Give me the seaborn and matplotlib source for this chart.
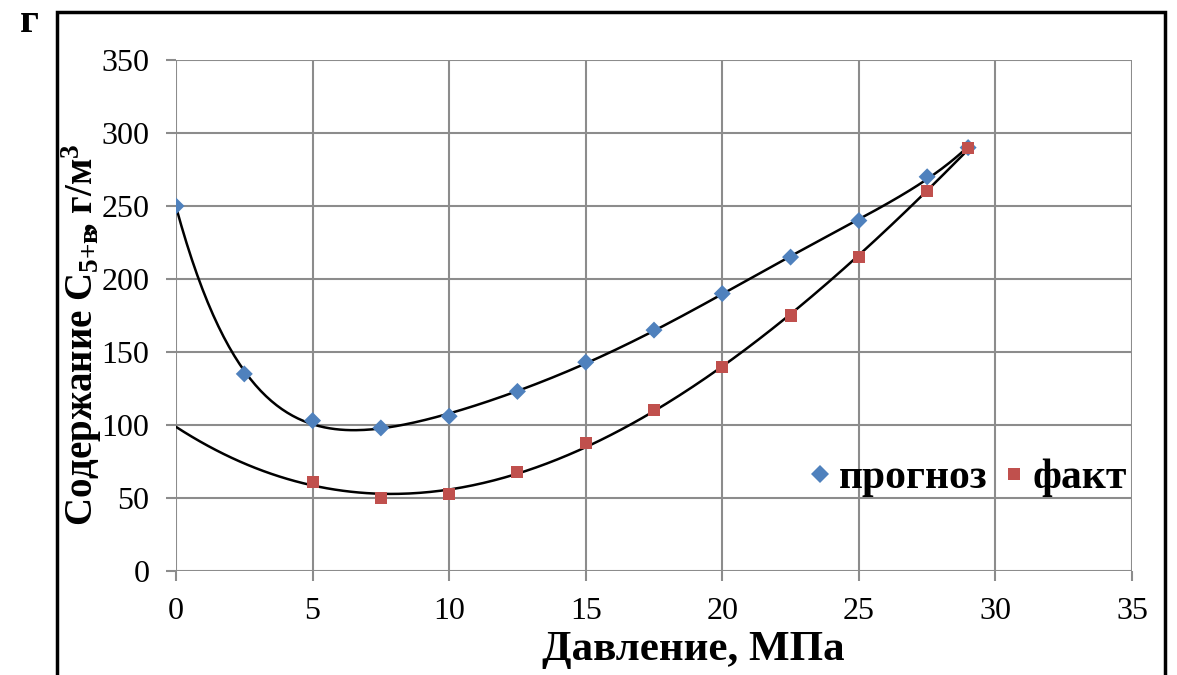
import numpy as np
import pandas as pd
import matplotlib
matplotlib.use("Agg")
import matplotlib.pyplot as plt
import seaborn as sns
from matplotlib.patches import Rectangle

# Pressure (MPa) and C5+ content (g/m3)
forecast_x = [0, 2.5, 5, 7.5, 10, 12.5, 15, 17.5, 20, 22.5, 25, 27.5, 29]
forecast_y = [250, 135, 103, 98, 106, 123, 143, 165, 190, 215, 240, 270, 290]
fact_x = [5, 7.5, 10, 12.5, 15, 17.5, 20, 22.5, 25, 27.5, 29]
fact_y = [61, 50, 53, 68, 88, 110, 140, 175, 215, 260, 290]

series_names = ["прогноз", "факт"]
x_ticks = [0, 5, 10, 15, 20, 25, 30, 35]
y_ticks = [0, 50, 100, 150, 200, 250, 300, 350]

sns.set_theme(style="white")
plt.rcParams["font.family"] = ["Liberation Serif", "DejaVu Serif"]
plt.rcParams["text.color"] = "black"
plt.rcParams["mathtext.fontset"] = "custom"
plt.rcParams["mathtext.rm"] = "Liberation Serif:bold"
plt.rcParams["mathtext.it"] = "Liberation Serif:bold"
plt.rcParams["mathtext.bf"] = "Liberation Serif:bold"

df = pd.concat([
    pd.DataFrame({"x": forecast_x, "y": forecast_y, "series": series_names[0]}),
    pd.DataFrame({"x": fact_x, "y": fact_y, "series": series_names[1]}),
])

fig = plt.figure(figsize=(11.77, 6.75), dpi=100)
ax = fig.add_axes([176 / 1177, 1 - 571 / 675, 956 / 1177, 511 / 675])

grid_c = "#8c8c8c"

# Polynomial trend lines over the measured pressure range
xs_f = np.linspace(0, 29, 300)
cf = np.polyfit(forecast_x, forecast_y, 6)
sns.lineplot(x=xs_f, y=np.polyval(cf, xs_f), color="black", lw=1.8,
             ax=ax, zorder=2)
cr = np.polyfit(fact_x, fact_y, 3)
sns.lineplot(x=xs_f, y=np.polyval(cr, xs_f), color="black", lw=1.8,
             ax=ax, zorder=2)

sns.scatterplot(data=df, x="x", y="y", hue="series", style="series",
                markers={"прогноз": "D", "факт": "s"},
                palette={"прогноз": "#4f81bd", "факт": "#c0504d"},
                s=75, linewidth=0, ax=ax, zorder=3)

ax.set_xlim(0, 35)
ax.set_ylim(0, 350)
ax.set_xticks(x_ticks)
ax.set_yticks(y_ticks)
ax.grid(True, color=grid_c, lw=1.5)
ax.set_axisbelow(True)
for s in ax.spines.values():
    s.set_visible(False)
ax.tick_params(axis="both", which="major", direction="out", length=7,
               width=1.5, color=grid_c, labelsize=23, labelcolor="black")
ax.tick_params(axis="y", left=True, pad=12)
ax.tick_params(axis="x", bottom=True, pad=12)

ax.set_xlabel("Давление, МПа", fontsize=31, fontweight="bold",
              color="black")
ax.set_ylabel(r"Содержание C$_{5{+}в}\!$, г/м$^3$", fontsize=28,
              fontweight="bold", color="black")
ax.xaxis.set_label_coords((693 - 176) / 956, -0.117)
ax.yaxis.set_label_coords((104 - 176) / 956, (571 - 335) / 511)

leg = ax.legend(loc="center right", bbox_to_anchor=(0.995, 0.182), ncol=2,
                frameon=False, fontsize=30, handletextpad=0.15,
                handlelength=0.6, columnspacing=0.35, markerscale=1.0,
                borderpad=0, borderaxespad=0)
for t in leg.get_texts():
    t.set_fontweight("bold")
    t.set_color("black")

fig.text(20 / 1177, 1 - 22 / 675, "г", fontsize=30, fontweight="bold",
         ha="left", va="center")

fig.add_artist(Rectangle((57 / 1177, -0.02), (1165 - 57) / 1177,
                         1 - 12 / 675 + 0.02, transform=fig.transFigure,
                         fill=False, ec="black", lw=2.5))

fig.savefig("out.png", dpi=100)
